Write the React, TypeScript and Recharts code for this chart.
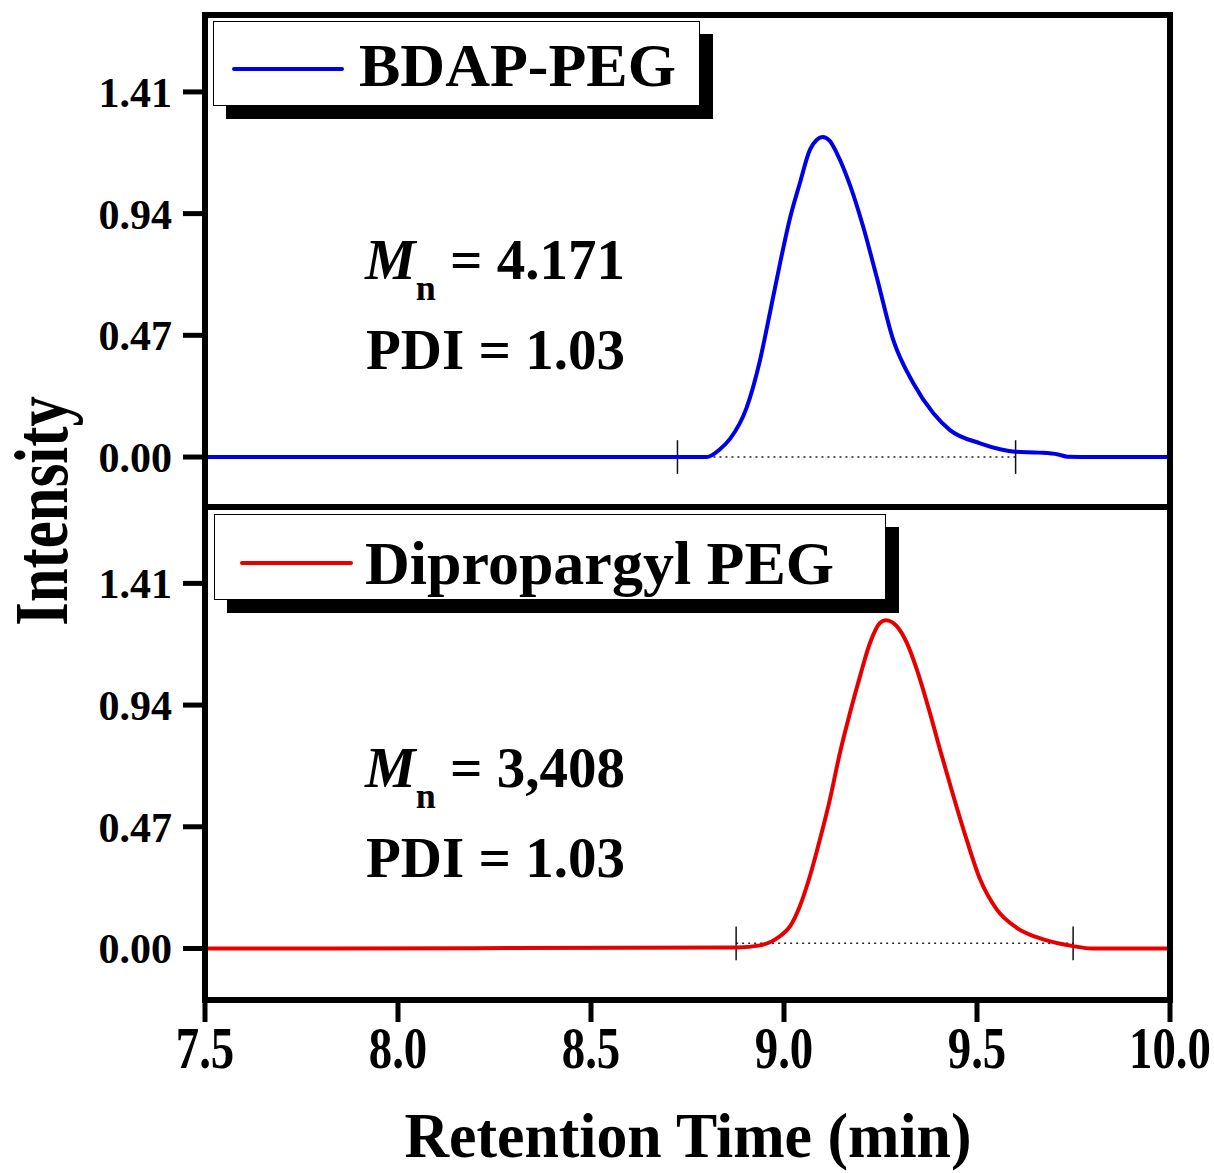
import React from "react";
import { LineChart, Line, XAxis, YAxis, ReferenceLine, Legend } from "recharts";

const SERIF = '"Liberation Serif", "Times New Roman", serif';

// x ticks / y ticks
const xTicks = [7.5, 8.0, 8.5, 9.0, 9.5, 10.0];
const yTicks = [0, 0.47, 0.94, 1.41];

// BDAP-PEG trace (retention time in min, intensity)
const bdapTime = [
  7.5, 8.2, 8.8, 8.834, 8.86, 8.903, 8.938, 8.964, 8.99, 9.016, 9.041, 9.067, 9.085, 9.1, 9.118,
  9.137, 9.171, 9.205, 9.24, 9.283, 9.335, 9.387, 9.43, 9.508, 9.56, 9.6, 9.66, 9.71, 9.735, 9.8, 10.0,
];
const bdapIntensity = [
  0, 0, 0, 0.03, 0.07, 0.19, 0.375, 0.56, 0.75, 0.925, 1.057, 1.186, 1.225, 1.236, 1.222,
  1.173, 1.05, 0.89, 0.696, 0.452, 0.285, 0.169, 0.104, 0.053, 0.03, 0.02, 0.017, 0.01, 0.001, 0, 0,
];

// Dipropargyl PEG trace
const dpTime = [
  7.5, 8.2, 8.88, 8.938, 8.99, 9.016, 9.041, 9.067, 9.093, 9.119, 9.145, 9.171, 9.197, 9.223, 9.249,
  9.264, 9.292, 9.318, 9.344, 9.378, 9.404, 9.439, 9.473, 9.508, 9.551, 9.603, 9.672, 9.749, 9.8, 10.0,
];
const dpIntensity = [
  0, 0.001, 0.004, 0.012, 0.048, 0.086, 0.163, 0.279, 0.421, 0.576, 0.756, 0.91, 1.052, 1.181, 1.258,
  1.268, 1.245, 1.181, 1.078, 0.91, 0.769, 0.588, 0.421, 0.267, 0.151, 0.08, 0.035, 0.009, 0, 0,
];

// integration limits + baselines
const bdapLimits = [8.724, 9.6];
const bdapBase = 0;
const dpLimits = [8.876, 9.749];
const dpBase = 0.02;

const bdapData = bdapTime.map((t, i) => ({ t, v: bdapIntensity[i] }));
const dpData = dpTime.map((t, i) => ({ t, v: dpIntensity[i] }));

const frame = { stroke: "#000", strokeWidth: 6, strokeLinecap: "square" as const };
const tickStroke = { stroke: "#000", strokeWidth: 5 };

const XTick = (props: any) => {
  const { x, y, payload } = props;
  return (
    <text
      transform={`translate(${x}, ${y + 46}) scale(0.78, 1)`}
      textAnchor="middle"
      fontFamily={SERIF}
      fontWeight="bold"
      fontSize={60}
      fill="#000"
    >
      {Number(payload.value).toFixed(1)}
    </text>
  );
};

function LegendBox({ color, label, width, height, lineLeft, lineTop, lineW, textLeft, textTop }: any) {
  return (
    <div
      style={{
        position: "relative",
        width,
        height,
        boxSizing: "border-box",
        border: "1.5px solid #000",
        background: "#fff",
        boxShadow: "13px 13px 0 #000",
      }}
    >
      <div style={{ position: "absolute", left: lineLeft, top: lineTop, width: lineW, height: 4, background: color, borderRadius: 2 }} />
      <span
        style={{
          position: "absolute",
          left: textLeft,
          top: textTop,
          fontFamily: SERIF,
          fontWeight: "bold",
          fontSize: 62,
          lineHeight: "62px",
          whiteSpace: "nowrap",
          color: "#000",
        }}
      >
        {label}
      </span>
    </div>
  );
}

function Panel({ data, color, name, domain, limits, base, legend, showX, height, margin, xHeight }: any) {
  return (
    <LineChart width={1214} height={height} data={data} margin={margin}>
      <XAxis
        dataKey="t"
        type="number"
        domain={[7.5, 10]}
        ticks={xTicks}
        allowDataOverflow
        axisLine={frame}
        tickLine={showX ? tickStroke : false}
        tickSize={22}
        tickMargin={0}
        tick={showX ? <XTick /> : false}
        height={xHeight}
      />
      <XAxis xAxisId="top" orientation="top" type="number" domain={[7.5, 10]} height={1} tick={false} tickLine={false} axisLine={frame} />
      <YAxis
        type="number"
        domain={domain}
        ticks={yTicks}
        allowDataOverflow
        width={205}
        axisLine={frame}
        tickLine={tickStroke}
        tickSize={22}
        tickMargin={11}
        tickFormatter={(v: number) => v.toFixed(2)}
        tick={{ fill: "#000", fontSize: 42, fontWeight: "bold", fontFamily: SERIF }}
      />
      <YAxis yAxisId="right" orientation="right" type="number" domain={domain} width={1} tick={false} tickLine={false} axisLine={frame} />
      <ReferenceLine
        segment={[{ x: limits[0], y: base }, { x: limits[1], y: base }]}
        stroke="#222"
        strokeWidth={1.5}
        strokeDasharray="2 4"
      />
      {limits.map((l: number) => (
        <ReferenceLine key={l} segment={[{ x: l, y: base - 0.065 }, { x: l, y: base + 0.065 }]} stroke="#111" strokeWidth={1.5} />
      ))}
      <Line
        dataKey="v"
        name={name}
        type="monotone"
        stroke={color}
        strokeWidth={4}
        dot={false}
        isAnimationActive={false}
      />
      <Legend
        layout="horizontal"
        verticalAlign="middle"
        align="center"
        wrapperStyle={{ left: legend.left, top: legend.top, width: "auto", right: "auto", bottom: "auto" }}
        content={() => <LegendBox color={color} label={name} {...legend.box} />}
      />
    </LineChart>
  );
}

function Annotation({ y, mn }: { y: number; mn: string }) {
  return (
    <g fontFamily={SERIF} fontWeight="bold" fill="#000">
      <text x={365} y={y} fontSize={57}>
        <tspan fontStyle="italic">M</tspan>
        <tspan fontSize={36} dy={21}>n</tspan>
        <tspan dy={-21}>{` = ${mn}`}</tspan>
      </text>
      <text x={366} y={y + 90} fontSize={57}>
        PDI = 1.03
      </text>
    </g>
  );
}

export default function App() {
  return (
    <div style={{ position: "absolute", left: 0, top: 0, width: 1214, height: 1173, background: "#fff" }}>
      <div style={{ position: "absolute", left: 0, top: 0 }}>
        <Panel
          data={bdapData}
          color="#0000e6"
          name="BDAP-PEG"
          domain={[-0.193, 1.707]}
          limits={bdapLimits}
          base={bdapBase}
          showX={false}
          height={520}
          xHeight={1}
          margin={{ top: 14, right: 43, bottom: 12, left: 0 }}
          legend={{
            left: 213,
            top: 21,
            box: { width: 487, height: 85, lineLeft: 18, lineTop: 45, lineW: 112, textLeft: 145, textTop: 12 },
          }}
        />
      </div>
      <div style={{ position: "absolute", left: 0, top: 490 }}>
        <Panel
          data={dpData}
          color="#e60000"
          name="Dipropargyl PEG"
          domain={[-0.199, 1.705]}
          limits={dpLimits}
          base={dpBase}
          showX
          height={683}
          xHeight={173}
          margin={{ top: 16, right: 43, bottom: 0, left: 0 }}
          legend={{
            left: 214,
            top: 24,
            box: { width: 672, height: 86, lineLeft: 25, lineTop: 46, lineW: 113, textLeft: 150, textTop: 17 },
          }}
        />
      </div>
      <svg width={1214} height={1173} style={{ position: "absolute", left: 0, top: 0, pointerEvents: "none" }}>
        <Annotation y={279} mn="4.171" />
        <Annotation y={787} mn="3,408" />
        <text
          transform="translate(67, 511) rotate(-90) scale(0.8, 1)"
          textAnchor="middle"
          fontFamily={SERIF}
          fontWeight="bold"
          fontSize={76}
          fill="#000"
        >
          Intensity
        </text>
        <text
          transform="translate(688, 1157) scale(0.98, 1)"
          textAnchor="middle"
          fontFamily={SERIF}
          fontWeight="bold"
          fontSize={63}
          fill="#000"
        >
          Retention Time (min)
        </text>
      </svg>
    </div>
  );
}
